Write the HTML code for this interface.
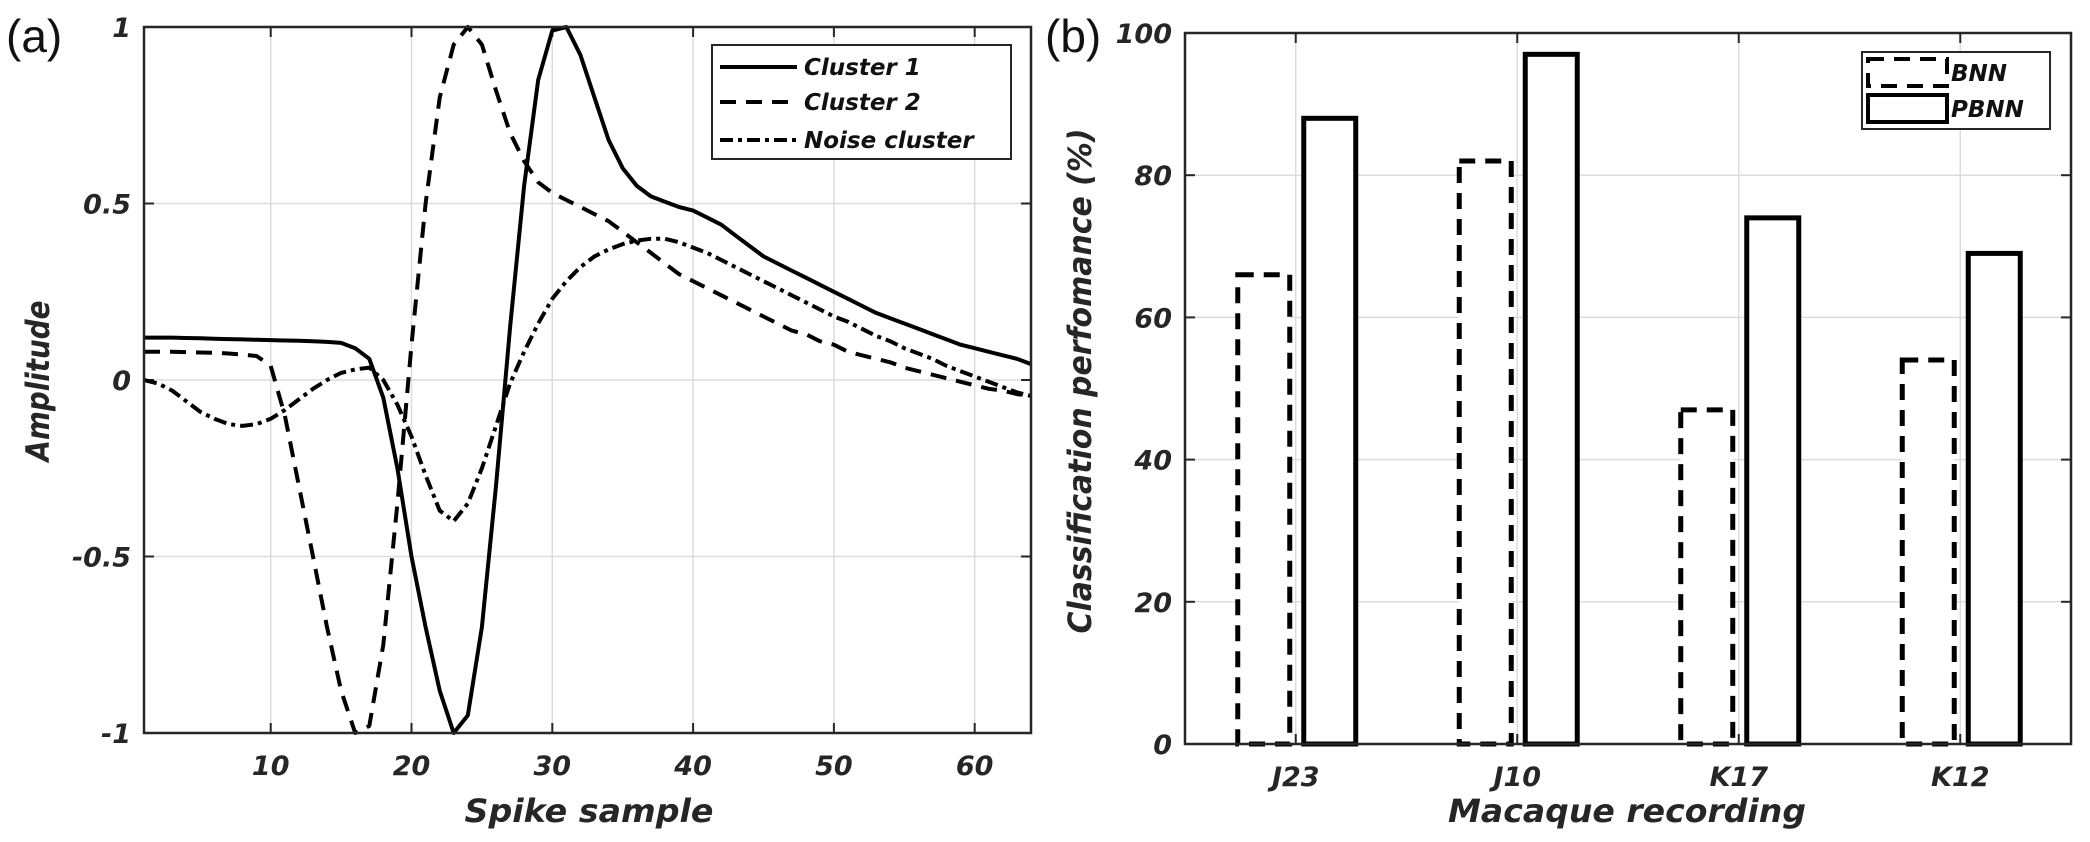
<!DOCTYPE html>
<html><head><meta charset="utf-8">
<style>
html,body{margin:0;padding:0;background:#fff;}
svg{display:block;}
text{font-family:"DejaVu Sans","Liberation Sans",sans-serif;fill:#262626;}
.tk{font-size:27px;font-weight:bold;font-style:italic;}
.ttl{font-size:32px;font-weight:bold;font-style:italic;}
.lg{font-size:23px;font-weight:bold;font-style:italic;fill:#111;}
.pl{font-family:"Liberation Sans",sans-serif;font-size:46px;fill:#111;}
</style></head>
<body>
<svg id="c" width="2090" height="842" xmlns="http://www.w3.org/2000/svg"></svg>
<script>
// Panel (a) data
const sampleIdx = Array.from({length:64},(_,i)=>i+1);
const cluster1 = [0.12,0.12,0.12,0.119,0.118,0.117,0.116,0.115,0.114,0.113,0.112,0.111,0.11,0.108,0.105,0.09,0.06,-0.05,-0.25,-0.5,-0.7,-0.88,-1,-0.95,-0.7,-0.3,0.15,0.55,0.85,0.99,1.0,0.92,0.8,0.68,0.6,0.55,0.52,0.505,0.49,0.48,0.46,0.44,0.41,0.38,0.35,0.33,0.31,0.29,0.27,0.25,0.23,0.21,0.19,0.175,0.16,0.145,0.13,0.115,0.1,0.09,0.08,0.07,0.06,0.045];
const cluster2 = [0.08,0.08,0.08,0.079,0.078,0.077,0.075,0.072,0.068,0.04,-0.1,-0.3,-0.5,-0.7,-0.88,-1.0,-0.98,-0.75,-0.35,0.1,0.5,0.8,0.95,1.0,0.95,0.82,0.7,0.62,0.56,0.53,0.51,0.49,0.47,0.45,0.42,0.39,0.36,0.33,0.3,0.28,0.26,0.24,0.22,0.2,0.18,0.16,0.14,0.13,0.11,0.1,0.08,0.07,0.06,0.05,0.035,0.025,0.015,0.005,-0.005,-0.015,-0.025,-0.03,-0.04,-0.045];
const noiseCluster = [0,-0.01,-0.03,-0.06,-0.09,-0.11,-0.125,-0.13,-0.125,-0.11,-0.085,-0.055,-0.025,0,0.02,0.03,0.035,0,-0.07,-0.16,-0.27,-0.37,-0.4,-0.35,-0.25,-0.13,-0.01,0.08,0.16,0.23,0.28,0.32,0.35,0.37,0.385,0.395,0.4,0.4,0.39,0.375,0.36,0.34,0.32,0.3,0.28,0.26,0.24,0.22,0.2,0.18,0.165,0.145,0.125,0.11,0.09,0.075,0.06,0.04,0.025,0.01,-0.005,-0.02,-0.035,-0.045];
const xTicksA = [10,20,30,40,50,60];
const yTicksA = [-1,-0.5,0,0.5,1];
const yTickLabelsA = ["-1","-0.5","0","0.5","1"];
// Panel (b) data
const recordings = ["J23","J10","K17","K12"];
const bnnValues = [66,82,47,54];
const pbnnValues = [88,97,74,69];
const yTicksB = [0,20,40,60,80,100];

const NS="http://www.w3.org/2000/svg";
const svg=document.getElementById('c');
function mk(tag,attrs,parent){const e=document.createElementNS(NS,tag);for(const k in attrs)e.setAttribute(k,attrs[k]);(parent||svg).appendChild(e);return e;}

// ---------- Panel A ----------
const A={l:144,r:1031,t:27,b:733};
const ax=v=>A.l+(v-1)/(64-1)*(A.r-A.l);
const ay=v=>A.b-(v+1)/2*(A.b-A.t);
const gA=mk('g',{});


xTicksA.forEach(t=>{
  const l=mk('line',{x1:ax(t),x2:ax(t),y1:A.t,y2:A.b,stroke:'#dcdcdc','stroke-width':1.5},gA);
  
  
  mk('line',{x1:ax(t),x2:ax(t),y1:A.b,y2:A.b-10,stroke:'#262626','stroke-width':2},gA);
  mk('line',{x1:ax(t),x2:ax(t),y1:A.t,y2:A.t+10,stroke:'#262626','stroke-width':2},gA);
  const tx=mk('text',{x:ax(t),y:A.b+42,'text-anchor':'middle',class:'tk'},gA);tx.textContent=t;
  
  
});
yTicksA.forEach((t,i)=>{
  if(t>-1&&t<1){const l=mk('line',{x1:A.l,x2:A.r,y1:ay(t),y2:ay(t),stroke:'#dcdcdc','stroke-width':1.5},gA);
  
  }
  mk('line',{x1:A.l,x2:A.l+10,y1:ay(t),y2:ay(t),stroke:'#262626','stroke-width':2},gA);
  mk('line',{x1:A.r,x2:A.r-10,y1:ay(t),y2:ay(t),stroke:'#262626','stroke-width':2},gA);
  const tx=mk('text',{x:131,y:ay(t)+10,'text-anchor':'end',class:'tk'},gA);tx.textContent=yTickLabelsA[i];
  
  
});
function series(vals,dash,name){
  const d=vals.map((v,i)=>(i?'L':'M')+ax(sampleIdx[i]).toFixed(1)+','+ay(v).toFixed(1)).join(' ');
  const p=mk('path',{d:d,fill:'none',stroke:'#000','stroke-width':4,'stroke-dasharray':dash,'stroke-linejoin':'round'},gA);
  
  
}
series(cluster1,'none','cluster-1-line');
series(cluster2,'16,10','cluster-2-line');
series(noiseCluster,'13,5,4,5','noise-cluster-line');
const boxA=mk('rect',{x:A.l,y:A.t,width:A.r-A.l,height:A.b-A.t,fill:'none',stroke:'#262626','stroke-width':2.5},gA);


// legend A
const lgA=mk('g',{},gA);


mk('rect',{x:712,y:45,width:299,height:114,fill:'#fff',stroke:'#262626','stroke-width':2},lgA);
[['Cluster 1','none',67],['Cluster 2','16,10',102],['Noise cluster','13,5,4,5',140]].forEach(e=>{
  const g=mk('g',{},lgA);
  
  
  mk('line',{x1:720,x2:797,y1:e[2],y2:e[2],stroke:'#000','stroke-width':4,'stroke-dasharray':e[1]},g);
  const t=mk('text',{x:804,y:e[2]+8,class:'lg'},g);t.textContent=e[0];
});
let t;
t=mk('text',{x:589,y:822,'text-anchor':'middle',class:'ttl',textLength:249,lengthAdjust:'spacingAndGlyphs'},gA);t.textContent='Spike sample';


t=mk('text',{x:0,y:0,'text-anchor':'middle',class:'ttl',transform:'translate(49,381) rotate(-90)',textLength:161,lengthAdjust:'spacingAndGlyphs'},gA);t.textContent='Amplitude';


t=mk('text',{x:6,y:52,class:'pl'},gA);t.textContent='(a)';



// ---------- Panel B ----------
const B={l:1185,r:2071,t:33,b:744};
const bx=i=>B.l+(i+1-0.5)/4*(B.r-B.l);
const by=v=>B.b-v/100*(B.b-B.t);
const gB=mk('g',{});


recordings.forEach((r,i)=>{
  const l=mk('line',{x1:bx(i),x2:bx(i),y1:B.t,y2:B.b,stroke:'#dcdcdc','stroke-width':1.5},gB);
  
  
  mk('line',{x1:bx(i),x2:bx(i),y1:B.b,y2:B.b-10,stroke:'#262626','stroke-width':2},gB);
  mk('line',{x1:bx(i),x2:bx(i),y1:B.t,y2:B.t+10,stroke:'#262626','stroke-width':2},gB);
  const tx=mk('text',{x:bx(i),y:B.b+42,'text-anchor':'middle',class:'tk'},gB);tx.textContent=r;
  
  
});
yTicksB.forEach(v=>{
  if(v>0&&v<100){const l=mk('line',{x1:B.l,x2:B.r,y1:by(v),y2:by(v),stroke:'#dcdcdc','stroke-width':1.5},gB);
  
  }
  mk('line',{x1:B.l,x2:B.l+10,y1:by(v),y2:by(v),stroke:'#262626','stroke-width':2},gB);
  mk('line',{x1:B.r,x2:B.r-10,y1:by(v),y2:by(v),stroke:'#262626','stroke-width':2},gB);
  const tx=mk('text',{x:1172,y:by(v)+10,'text-anchor':'end',class:'tk'},gB);tx.textContent=v;
  
  
});
const bw=52;
recordings.forEach((r,i)=>{
  const b1=mk('rect',{x:bx(i)-32-bw/2,y:by(bnnValues[i]),width:bw,height:by(0)-by(bnnValues[i]),fill:'#fff',stroke:'#000','stroke-width':5,'stroke-dasharray':'16,10'},gB);
  
  
  const b2=mk('rect',{x:bx(i)+34-bw/2,y:by(pbnnValues[i]),width:bw,height:by(0)-by(pbnnValues[i]),fill:'#fff',stroke:'#000','stroke-width':5},gB);
  
  
});
const boxB=mk('rect',{x:B.l,y:B.t,width:B.r-B.l,height:B.b-B.t,fill:'none',stroke:'#262626','stroke-width':2.5},gB);


const lgB=mk('g',{},gB);


mk('rect',{x:1862,y:52,width:188,height:77,fill:'#fff',stroke:'#262626','stroke-width':2},lgB);
[['BNN','16,10',59],['PBNN','none',95]].forEach(e=>{
  const g=mk('g',{},lgB);
  
  
  mk('rect',{x:1868,y:e[2],width:79,height:27,fill:'#fff',stroke:'#000','stroke-width':4,'stroke-dasharray':e[1]},g);
  const tt=mk('text',{x:1951,y:e[2]+22,class:'lg'},g);tt.textContent=e[0];
});
t=mk('text',{x:1627,y:822,'text-anchor':'middle',class:'ttl',textLength:358,lengthAdjust:'spacingAndGlyphs'},gB);t.textContent='Macaque recording';


t=mk('text',{x:0,y:0,'text-anchor':'middle',class:'ttl',transform:'translate(1091,381) rotate(-90)',textLength:505,lengthAdjust:'spacingAndGlyphs'},gB);t.textContent='Classification perfomance (%)';


t=mk('text',{x:1045,y:52,class:'pl'},gB);t.textContent='(b)';


</script>
</body></html>
